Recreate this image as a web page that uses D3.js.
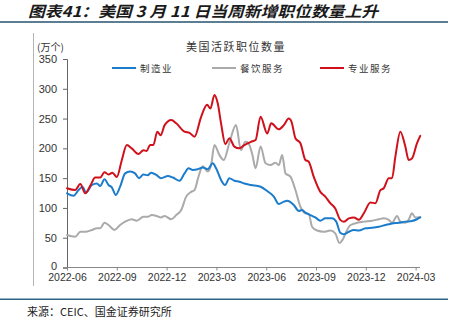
<!DOCTYPE html>
<html><head><meta charset="utf-8">
<script src="https://cdn.jsdelivr.net/npm/d3@7/dist/d3.min.js"></script>
<style>
html,body{margin:0;padding:0;background:#fff;}
svg{display:block;}
</style></head>
<body><svg id="c" width="458" height="332"></svg>
<script>
// ---- data (x = months since 2022-06) ----
const tickLabels = ["2022-06","2022-09","2022-12","2023-03","2023-06","2023-09","2023-12","2024-03"];
const tickMonths = [0,3,6,9,12,15,18,21];
const yTicks = [0,50,100,150,200,250,300,350];

const manuT = [0,0.40,0.70,0.94,1.14,1.50,1.80,2.00,2.26,2.50,2.70,2.94,3.20,3.50,3.80,4.10,4.34,4.60,4.86,5.06,5.40,5.66,6.08,6.38,6.78,7.08,7.32,7.58,7.88,8.18,8.48,8.78,8.98,9.28,9.52,9.78,10.08,10.38,10.68,11.08,11.66,12.06,12.46,12.76,13.06,13.26,13.66,13.96,14.16,14.36,14.66,14.96,15.26,15.56,15.96,16.22,16.46,16.68,16.98,17.28,17.58,17.98,18.38,18.78,19.18,19.58,19.98,20.38,20.78,21.08,21.28];
const manuV = [124.5,120.5,130,135.6,125.6,138.5,141,137,148,138.5,134.6,121.7,135.6,158,161,158,150,156,155,159,155,150,153.6,151,145.7,158,166.5,163.7,165,168,165,175,166.5,147,138.5,150,145.7,144,141,138.5,135.6,128.4,119,106.6,110.5,112,105,95,96.5,92,88,84,78.6,82.6,82.6,77,58.5,56,60,63,62,65.8,66.8,68.5,71.3,74,75,77,78,81,84];

const foodT = [0,0.20,0.50,0.80,1.10,1.50,1.80,2.00,2.26,2.50,2.86,3.20,3.50,3.90,4.20,4.60,4.86,5.10,5.40,5.66,5.88,6.28,6.58,6.88,7.18,7.48,7.68,7.92,8.18,8.48,8.68,8.88,9.18,9.44,9.78,10.18,10.48,10.74,10.92,11.16,11.36,11.66,11.96,12.26,12.56,12.76,12.96,13.16,13.46,13.76,14.06,14.36,14.56,14.76,15.06,15.46,15.86,16.16,16.41,16.61,16.82,17.08,17.48,17.88,18.38,18.78,19.08,19.38,19.58,19.88,20.08,20.38,20.58,20.78,20.98,21.28];
const foodV = [54.6,53,51.7,60,60,63,65.8,65.8,75,71.3,63,71.3,77,81,78.6,85,85,88,86.5,84,86.5,81,88,96.5,119,127,130,152.4,170,161,172,205.6,189,180.5,209,239,197,211,209,190,166.5,203,175,172,176,172,189,158,152.4,130,102,91,90,68.5,62,60,62,57.4,41,47,60,71.3,75,77,78.6,81,82.6,80,75,86.5,77,75,80,91,84,85];

const profT = [0,0.50,0.80,1.10,1.40,1.70,2.00,2.26,2.50,2.74,3.00,3.30,3.60,3.90,4.30,4.60,4.80,5.00,5.20,5.44,5.64,5.88,6.28,6.58,7.08,7.38,7.68,8.08,8.44,8.64,8.88,9.08,9.28,9.54,9.78,10.08,10.38,10.68,11.08,11.36,11.66,12.06,12.30,12.76,13.06,13.36,13.52,13.76,14.06,14.36,14.56,14.86,15.26,15.56,15.86,16.16,16.46,16.68,16.98,17.28,17.58,17.88,18.28,18.58,18.88,19.08,19.38,19.58,19.78,20.08,20.38,20.58,20.78,21.08,21.28];
const profV = [133,130,140,124.5,137,151,151,160,156,159,152,180,205.6,200,190.5,197,195.6,205.6,205.6,228,222,239,247.6,242,228,226,219.6,253,273,267,289.6,275.6,242,207,217,203,200,205.6,211,214,253,225,242,232,239,250,245,217,208.5,180.5,177.6,152.4,127,119,108,99,80,77,82.5,84,80,91,109,108,130,133,150,150,186,228,203,180.5,183,208.5,221];

const seriesNames = ["制造业","餐饮服务","专业服务"];
const seriesColors = ["#1b7ccc","#aaaaaa","#d0111b"];

// ---- drawing ----
const svg = d3.select("#c");
const fontCJK = "'Noto Sans CJK SC','Noto Sans',sans-serif";
const fontNum = "'Liberation Sans',Arial,sans-serif";

// title
svg.append("text").attr("x",28).attr("y",17)
  .attr("font-family",fontCJK).attr("font-size",15).attr("font-weight","bold")
  .attr("font-style","italic").attr("fill","#1a1a1a")
  .attr("textLength",350).attr("lengthAdjust","spacingAndGlyphs")
  .text("图表41：美国 3 月 11 日当周新增职位数量上升");
svg.append("rect").attr("x",0).attr("y",21).attr("width",448).attr("height",2).attr("fill","#5b7e93");
svg.append("rect").attr("x",0).attr("y",298.5).attr("width",448).attr("height",1.5).attr("fill","#2e6585");
svg.append("line").attr("x1",33.5).attr("x2",33.5).attr("y1",33).attr("y2",286)
  .attr("stroke","#b5b5b5").attr("stroke-width",1);

svg.append("text").attr("x",27).attr("y",316)
  .attr("font-family",fontCJK).attr("font-size",11).attr("fill","#222")
  .text("来源：CEIC、国金证券研究所");

const x = d3.scaleLinear().domain([0,21.3]).range([67,420.6]);
const y = d3.scaleLinear().domain([0,350]).range([267.5,59]);

// y axis
const ya = svg.append("g").attr("transform","translate(67,0)")
  .call(d3.axisLeft(y).tickValues(yTicks).tickSize(4).tickPadding(6));
ya.select(".domain").attr("stroke","#666");
ya.selectAll(".tick line").attr("stroke","#666");
ya.selectAll("text").attr("font-family",fontNum).attr("font-size",11).attr("fill","#333");
ya.selectAll(".tick text").filter(d=>d===0).attr("dy","0.2em");

// x axis
const xa = svg.append("g").attr("transform","translate(0,267.5)")
  .call(d3.axisBottom(x).tickValues(tickMonths).tickFormat((d,i)=>tickLabels[i]).tickSize(3).tickPadding(3.5).tickSizeOuter(0));
xa.select(".domain").attr("stroke","#888").attr("d","M67,0H420");
xa.selectAll(".tick line").attr("stroke","#888");
xa.selectAll("text").attr("font-family",fontNum).attr("font-size",10.5).attr("fill","#333");

svg.append("text").attr("x",37).attr("y",51)
  .attr("font-family",fontCJK).attr("font-size",10).attr("fill","#333").text("(万个)");
svg.append("text").attr("x",236).attr("y",51).attr("text-anchor","middle")
  .attr("font-family",fontCJK).attr("font-size",11).attr("letter-spacing",1.5).attr("fill","#333")
  .text("美国活跃职位数量");

// lines
const data = [
  manuT.map((t,i)=>[t,manuV[i]]),
  foodT.map((t,i)=>[t,foodV[i]]),
  profT.map((t,i)=>[t,profV[i]])
];
const line = d3.line().x(d=>x(d[0])).y(d=>y(d[1])).curve(d3.curveMonotoneX);
[1,0,2].forEach(k=>{
  svg.append("path").datum(data[k]).attr("d",line)
    .attr("fill","none").attr("stroke",seriesColors[k]).attr("stroke-width",2)
    .attr("stroke-linejoin","round").attr("stroke-linecap","round");
});

// legend
const legX = [112,212,320];
seriesNames.forEach((n,i)=>{
  svg.append("line").attr("x1",legX[i]).attr("x2",legX[i]+24).attr("y1",68).attr("y2",68)
    .attr("stroke",seriesColors[i]).attr("stroke-width",2);
  svg.append("text").attr("x",legX[i]+28).attr("y",71.5)
    .attr("font-family",fontCJK).attr("font-size",9.5).attr("letter-spacing",1.5).attr("fill","#333").text(n);
});
</script></body></html>
